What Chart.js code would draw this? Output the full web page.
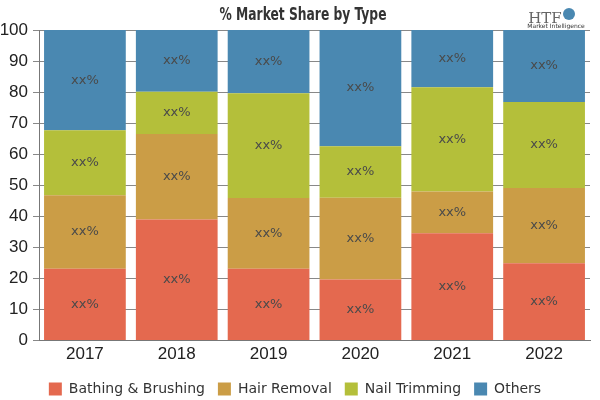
<!DOCTYPE html>
<html>
<head>
<meta charset="utf-8">
<script src="https://cdn.jsdelivr.net/npm/chart.js@4"></script>
<style>
  html, body { margin: 0; padding: 0; background: #fff; }
  #wrap { width: 600px; height: 400px; position: relative; }
</style>
</head>
<body>
<div id="wrap"><canvas id="mainBarChart" width="600" height="400"></canvas></div>
<script>
// data (% share per year)
const years = ['2017', '2018', '2019', '2020', '2021', '2022'];
const bathing = [23.1, 39.0, 23.1, 19.7, 34.6, 24.9];
const hairRemoval = [23.7, 27.5, 22.8, 26.3, 13.4, 24.2];
const nailTrimming = [20.9, 13.6, 33.7, 16.6, 33.6, 27.7];
const others = [32.3, 19.9, 20.4, 37.4, 18.4, 23.2];
const seriesNames = ['Bathing & Brushing', 'Hair Removal', 'Nail Trimming', 'Others'];
const seriesColors = ['#e4694f', '#cb9d46', '#b4bf3a', '#4a88b1'];
const yTicks = [0, 10, 20, 30, 40, 50, 60, 70, 80, 90, 100];
const segmentLabel = 'xx%';
const chartTitle = '% Market Share by Type';

// label "xx%" di tengah tiap segmen
const segLabels = {
    id: 'segLabels',
    afterDatasetsDraw(chart) {
        const ctx = chart.ctx;
        ctx.save();
        ctx.font = '13px "DejaVu Sans"';
        ctx.fillStyle = '#4a4a4a';
        ctx.textAlign = 'center';
        ctx.textBaseline = 'middle';
        chart.data.datasets.forEach((ds, i) => {
            chart.getDatasetMeta(i).data.forEach(bar => {
                ctx.fillText(segmentLabel, bar.x, (bar.y + bar.base) / 2);
            });
        });
        ctx.restore();
    }
};

// judul (huruf rapat) + logo kecil di pojok kanan atas
const header = {
    id: 'header',
    afterDraw(chart) {
        const ctx = chart.ctx;
        ctx.save();
        ctx.fillStyle = '#333';
        ctx.textAlign = 'center';
        ctx.textBaseline = 'middle';
        ctx.font = 'bold 18px "DejaVu Sans Condensed"';
        const w = ctx.measureText(chartTitle).width;
        ctx.translate(303, 15);
        ctx.scale(167 / w, 1);
        ctx.fillText(chartTitle, 0, 0);
        ctx.restore();

        ctx.save();
        ctx.fillStyle = '#666';
        ctx.textAlign = 'center';
        ctx.font = '15px "DejaVu Serif"';
        ctx.fillText('HTF', 545, 19);
        ctx.fillStyle = '#4a88b1';
        ctx.beginPath();
        ctx.arc(569, 14, 6, 0, Math.PI * 2);
        ctx.fill();
        ctx.fillStyle = '#333';
        ctx.font = '6px "DejaVu Sans"';
        ctx.fillText('Market Intelligence', 556, 26);
        ctx.restore();
    }
};

const ctx = document.getElementById('mainBarChart').getContext('2d');
new Chart(ctx, {
    type: 'bar',
    data: {
        labels: years,
        datasets: [bathing, hairRemoval, nailTrimming, others].map((d, i) => ({
            label: seriesNames[i],
            data: d,
            backgroundColor: seriesColors[i],
            borderWidth: 0,
            barPercentage: 0.89,
            categoryPercentage: 1.0
        }))
    },
    options: {
        responsive: false,
        animation: false,
        layout: { padding: { left: 0, right: 10, top: 30, bottom: -6 } },
        plugins: {
            title: { display: false },
            legend: {
                position: 'bottom',
                labels: {
                    color: '#333',
                    boxWidth: 13,
                    boxHeight: 13,
                    padding: 13,
                    font: { family: '"DejaVu Sans"', size: 14 }
                }
            },
            tooltip: { enabled: false }
        },
        scales: {
            x: {
                stacked: true,
                grid: { display: false, drawTicks: false },
                border: { color: '#777' },
                ticks: { color: '#222', font: { family: '"Liberation Sans"', size: 17 }, padding: 4 }
            },
            y: {
                stacked: true,
                min: 0,
                max: 100,
                afterBuildTicks: s => { s.ticks = yTicks.map(v => ({ value: v })); },
                afterFit: s => { s.width = 39; },
                grid: { color: '#888', tickLength: 6 },
                border: { color: '#777' },
                ticks: { color: '#222', font: { family: '"Liberation Sans"', size: 17 }, padding: 5 }
            }
        }
    },
    plugins: [segLabels, header]
});
</script>
</body>
</html>
